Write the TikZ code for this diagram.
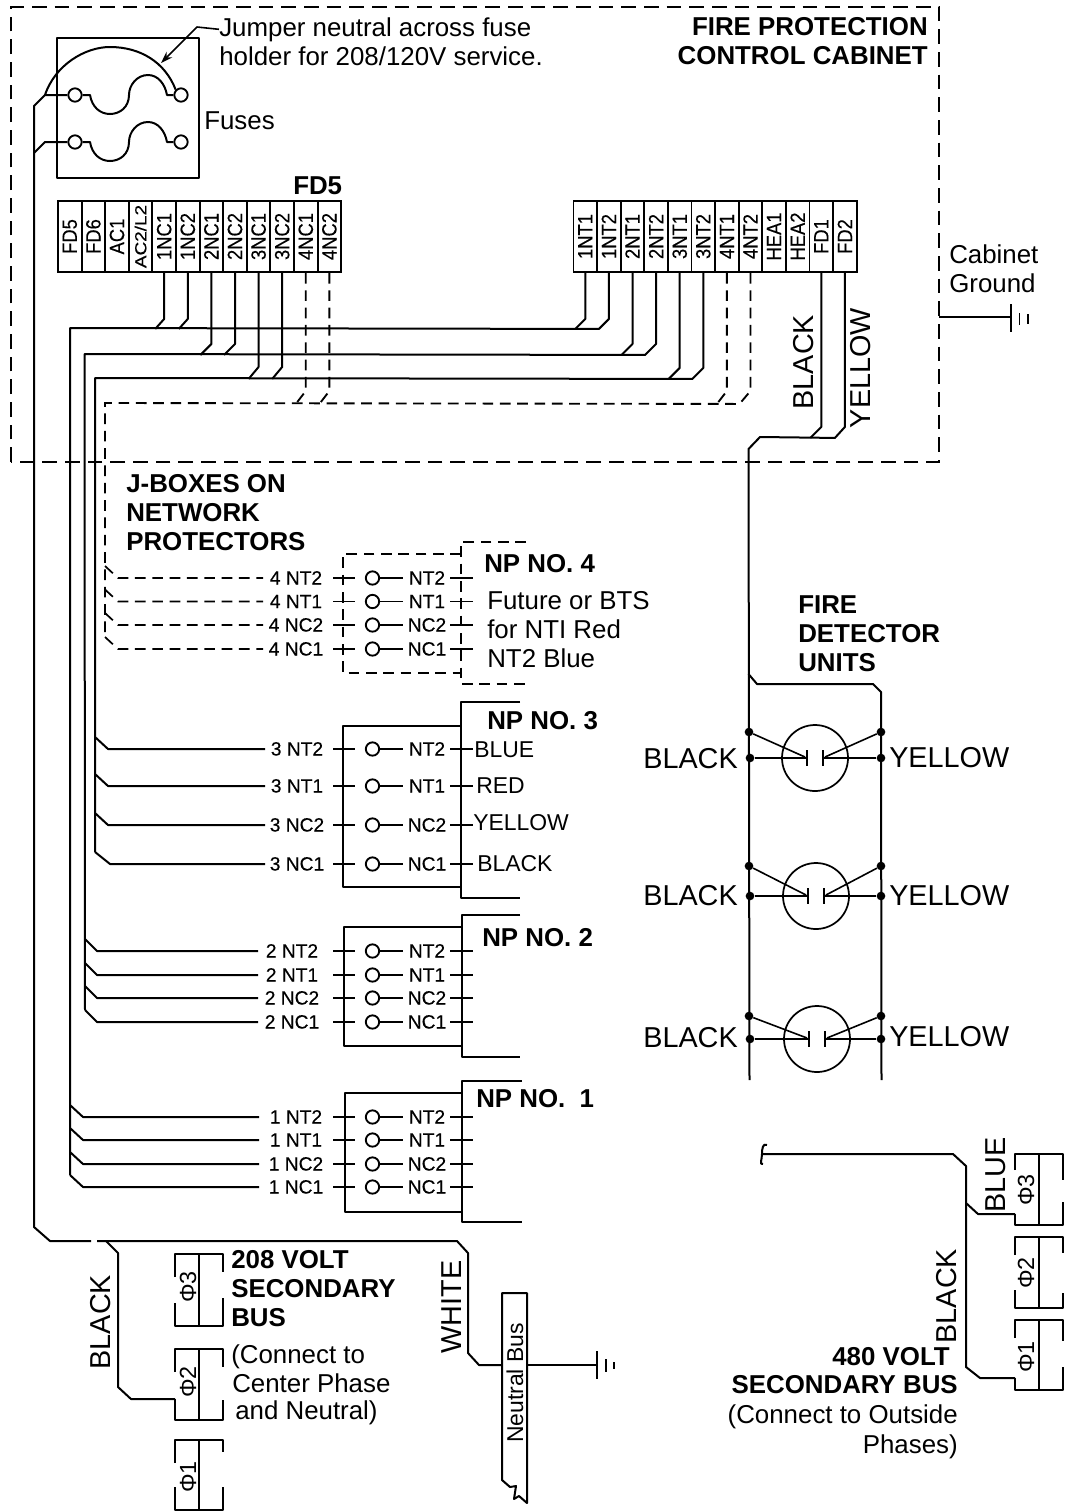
\documentclass[tikz,border=0pt]{standalone}
\usepackage{fontspec}
\setmainfont{Liberation Sans}
\newfontfamily\semib[FakeBold=0.25]{Liberation Sans}
\usetikzlibrary{arrows.meta}
\tikzset{
  wire/.style={line width=1.5pt,line join=round},
  thinw/.style={line width=1.2pt,line join=round},
  dwire/.style={line width=1.4pt,dash pattern=on 8pt off 5pt},
  jdash/.style={line width=1.3pt,dash pattern=on 8pt off 5pt},
  cabd/.style={line width=1.4pt,dash pattern=on 11pt off 6pt},
  tx/.style={inner sep=0pt,font=\fontsize{19.4}{19.4}\selectfont},
  bx/.style={inner sep=0pt,font=\fontsize{19.4}{19.4}\selectfont\bfseries},
  col/.style={inner sep=0pt,font=\fontsize{17.2}{17.2}\selectfont},
  big/.style={inner sep=0pt,font=\fontsize{21.6}{21.6}\selectfont},
  rl/.style={inner sep=0pt,font=\fontsize{14.4}{14.4}\selectfont\semib},
  phl/.style={inner sep=0pt,font=\fontsize{17.5}{17.5}\selectfont},
  cell/.style={draw,line width=1.4pt,minimum width=17.7pt,minimum height=53.25pt,inner sep=0pt,font=\fontsize{15.5}{15.5}\selectfont\semib},
  ring/.style={draw,circle,line width=1.4pt,minimum size=10pt,inner sep=0pt},
  sdot/.style={fill,circle,minimum size=6.5pt,inner sep=0pt},
  det/.style={draw,circle,line width=1.3pt,minimum size=49.5pt,inner sep=0pt},
}
\newcommand{\jrow}[9]{% id, y, bus x, wire x, wire end, wire style, label, label x, name
  \coordinate (#1b) at (#3,#2-12);
  \coordinate (#1a) at (#4,#2);
  \coordinate (#1e) at (#5,#2);
  \draw[#6] (#1b) -- (#1a) -- (#1e);
  \node[rl,anchor=base] (#1l) at (#8,#2+6.5) {#7};
  \coordinate (#1p) at (333,#2);
  \coordinate (#1q) at (355,#2);
  \draw[thinw] (#1p) -- (#1q);
  \node[ring] (#1c) at (372.5,#2) {};
  \coordinate (#1r) at (403,#2);
  \draw[thinw] (#1c) -- (#1r);
  \node[rl,anchor=base] (#1m) at (427,#2+6.5) {#9};
  \coordinate (#1s) at (450,#2);
  \coordinate (#1t) at (473,#2);
  \draw[thinw] (#1s) -- (#1t);
}
\newcommand{\detector}[4]{% id, cx, cy, y of upper dots
  \node[det] (#1o) at (#2,#3) {};
  \node[sdot] (#1a) at (749,#4) {};
  \node[sdot] (#1b) at (750,#3) {};
  \node[sdot] (#1c) at (881,#4) {};
  \node[sdot] (#1d) at (881,#3) {};
  \coordinate (#1f) at (#2-8,#3);
  \coordinate (#1g) at (#2+8,#3);
  \draw[thinw] (#1b) -- (#1f) (#1d) -- (#1g);
  \draw[thinw] (#2-8,#3-8) -- (#2-8,#3+8) (#2+8,#3-8) -- (#2+8,#3+8);
  \draw[thinw] (#1a) -- (#2-10,#3-1) (#1c) -- (#2+10,#3-1);
}
\newcommand{\phibox}[7]{% left x, top, bottom, left stub end, left stub start, right stub end, right stub start
  \draw[thinw] (#1,#4) -- (#1,#2) -- (#1+48,#2) -- (#1+48,#6);
  \draw[thinw] (#1,#5) -- (#1,#3) -- (#1+48,#3) -- (#1+48,#7);
  \draw[thinw] (#1+24,#2) -- (#1+24,#3);
}
\begin{document}
\begin{tikzpicture}[x=0.75pt,y=-0.75pt]
\useasboundingbox (0,0) rectangle (1065,1511);
% cabinet
\draw[cabd] (11,462) -- (11,7) -- (939,7) -- (939,462) -- cycle;
% fuses
\draw[wire] (57,38) rectangle (199,178);
\node[ring] (fa) at (75,95) {};
\node[ring] (fb) at (181,95) {};
\node[ring] (fc) at (75,142) {};
\node[ring] (fd) at (181,142) {};
\draw[wire] (fa.east) -- (90,95) .. controls (92,107) and (100,114) .. (110,114) .. controls (120,114) and (129,107) .. (129,95) .. controls (129,85) and (137,75) .. (148,75) .. controls (158,75) and (165,84) .. (167,95) -- (fb.west);
\draw[wire] (fc.east) -- (90,142) .. controls (92,154) and (100,161) .. (110,161) .. controls (120,161) and (129,154) .. (129,142) .. controls (129,132) and (137,122) .. (148,122) .. controls (158,122) and (165,131) .. (167,142) -- (fd.west);
\coordinate (up) at (45,95);
\coordinate (low) at (45,142);
\draw[wire] (up) .. controls (55,65) and (85,47) .. (110,47) .. controls (140,47) and (165,62) .. (fb.north west);
% labels top
\node[tx,anchor=base west] (jt1) at (219,36) {Jumper neutral across fuse};
\node[tx,anchor=base west] (jt2) at (219,65) {holder for 208/120V service.};
\coordinate (jbend) at (197,27);
\coordinate (jtip) at (161,63);
\draw[thinw,-{Stealth[length=9pt,width=6pt]}] (jt1.west) -- (jbend) -- (jtip);
\node[tx,anchor=base west] (fu) at (204,129) {Fuses};
\node[bx,anchor=base east] (fp1) at (928,35) {FIRE PROTECTION};
\node[bx,anchor=base east] (fp2) at (928,64) {CONTROL CABINET};
\node[bx,anchor=base west] (fd5) at (293,194) {FD5};
\node[tx,anchor=base west] (cg1) at (949,263) {Cabinet};
\node[tx,anchor=base west] (cg2) at (949,292) {Ground};
% cabinet ground
\coordinate (g0) at (939,317);
\coordinate (g1) at (1011,317);
\draw[thinw] (g0) -- (g1);
\draw[wire] (1011,304) -- (1011,332);
\draw[thinw] (1019.5,313) -- (1019.5,325) (1028,314) -- (1028,324);
% strips
\foreach \i/\t in {1/FD5,2/FD6,3/AC1,4/{\scalebox{1.03}[.78]{AC2/L2}},5/1NC1,6/1NC2,7/2NC1,8/2NC2,9/3NC1,10/3NC2,11/4NC1,12/4NC2}
  \node[cell] (L\i) at ({58+(\i-.5)*23.6},236.5) {\rotatebox{90}{\scalebox{.89}[1]{\t}}};
\foreach \i/\t in {1/1NT1,2/1NT2,3/2NT1,4/2NT2,5/3NT1,6/3NT2,7/4NT1,8/4NT2,9/HEA1,10/HEA2,11/FD1,12/FD2}
  \node[cell] (R\i) at ({573.5+(\i-.5)*23.6},236.5) {\rotatebox{90}{\scalebox{.89}[1]{\t}}};
% J-box text
\node[bx,anchor=base west] (jb1) at (126,492) {J-BOXES ON};
\node[bx,anchor=base west] (jb2) at (126,521) {NETWORK};
\node[bx,anchor=base west] (jb3) at (126,550) {PROTECTORS};
% rows NP4
\jrow{da}{578}{105}{118}{263}{jdash}{4 NT2}{296}{NT2}
\jrow{db}{601.5}{105}{118}{263}{jdash}{4 NT1}{296}{NT1}
\jrow{dc}{625}{105}{118}{263}{jdash}{4 NC2}{296}{NC2}
\jrow{dd}{649}{105}{118}{263}{jdash}{4 NC1}{296}{NC1}
% rows NP3
\jrow{ca}{749}{95}{108}{265}{wire}{3 NT2}{297}{NT2}
\jrow{cb}{786}{95}{108}{265}{wire}{3 NT1}{297}{NT1}
\jrow{cc}{825}{95}{108}{265}{wire}{3 NC2}{297}{NC2}
\jrow{cd}{864}{95}{110}{265}{wire}{3 NC1}{297}{NC1}
% rows NP2
\jrow{ba}{951}{85}{97}{258}{wire}{2 NT2}{292}{NT2}
\jrow{bb}{975}{85}{97}{258}{wire}{2 NT1}{292}{NT1}
\jrow{bc}{998}{85}{97}{258}{wire}{2 NC2}{292}{NC2}
\jrow{bd}{1022}{85}{97}{258}{wire}{2 NC1}{292}{NC1}
% rows NP1
\jrow{aa}{1117}{70}{83}{259}{wire}{1 NT2}{296}{NT2}
\jrow{ab}{1140}{70}{83}{259}{wire}{1 NT1}{296}{NT1}
\jrow{ac}{1164}{70}{83}{259}{wire}{1 NC2}{296}{NC2}
\jrow{ad}{1187}{70}{83}{259}{wire}{1 NC1}{296}{NC1}
% NP enclosures
\draw[jdash] (461,554) -- (343,554) -- (343,673) -- (461,673);
\draw[jdash] (526,542) -- (461,542) -- (461,684) -- (526,684);
\draw[wire] (461,726) -- (343,726) -- (343,887) -- (461,887);
\draw[wire] (520,702) -- (461,702) -- (461,898) -- (520,898);
\draw[wire] (462,927) -- (344,927) -- (344,1046) -- (462,1046);
\draw[wire] (520,915) -- (462,915) -- (462,1057) -- (520,1057);
\draw[wire] (462,1093) -- (345,1093) -- (345,1212) -- (462,1212);
\draw[wire] (522,1081) -- (462,1081) -- (462,1222) -- (522,1222);
% NP text
\node[bx,anchor=base west] (np4) at (484,572) {NP NO. 4};
\node[tx,anchor=base west] (f1) at (487,609) {Future or BTS};
\node[tx,anchor=base west] (f2) at (487,638) {for NTI Red};
\node[tx,anchor=base west] (f3) at (487,667) {NT2 Blue};
\node[bx,anchor=base west] (np3) at (487,729) {NP NO. 3};
\node[col,anchor=base west] (c1) at (474,757) {BLUE};
\node[col,anchor=base west] (c2) at (476,793) {RED};
\node[col,anchor=base west] (c3) at (473,830) {YELLOW};
\node[col,anchor=base west] (c4) at (477,871) {BLACK};
\node[bx,anchor=base west] (np2) at (482,946) {NP NO. 2};
\node[bx,anchor=base west] (np1) at (476,1107) {NP NO.\ \ 1};
% buses
\draw[wire] (L5.south) -- ++(0,46) -- ++(-9,10);
\draw[wire] (L6.south) -- ++(0,46) -- ++(-9,10);
\draw[wire] (R1.south) -- ++(0,46) -- ++(-10,10);
\draw[wire] (R2.south) -- ++(0,46) -- ++(-10,10) -- (70,328) -- (adb);
\draw[wire] (L7.south) -- ++(0,71) -- ++(-11,11);
\draw[wire] (L8.south) -- ++(0,71) -- ++(-11,11);
\draw[wire] (R3.south) -- ++(0,71) -- ++(-11,11);
\draw[wire] (R4.south) -- ++(0,71) -- ++(-11,11) -- (84.5,354) -- (bdb);
\draw[wire] (L9.south) -- ++(0,94) -- ++(-10,12);
\draw[wire] (L10.south) -- ++(0,94) -- ++(-10,12);
\draw[wire] (R5.south) -- ++(0,95) -- ++(-11,11);
\draw[wire] (R6.south) -- ++(0,95) -- ++(-11,11) -- (95,378) -- (cdb);
\draw[dwire] (L11.south) -- ++(0,118) -- ++(-10,13);
\draw[dwire] (L12.south) -- ++(0,118) -- ++(-10,13);
\draw[dwire] (R7.south) -- ++(0,118) -- ++(-10,13);
\draw[dwire] (R8.south) -- ++(0,118) -- ++(-11,13) -- (105,403) -- (ddb);
% fire detector wiring
\draw[wire] (R11.south) -- ++(0,154) -- ++(-11,11);
\draw[wire] (R12.south) -- ++(0,154) -- ++(-10,11) -- (760,437) -- (748.5,449) -- (749.5,1080);
\draw[wire] (748.5,674) -- (757,684) -- (873,684) -- (881,692) -- (881.5,1080);
\detector{x}{815}{758}{732}
\detector{y}{816}{896}{866}
\detector{z}{817}{1039}{1016}
\node[bx,anchor=base west] (fd1) at (798,613) {FIRE};
\node[bx,anchor=base west] (fd2) at (798,642) {DETECTOR};
\node[bx,anchor=base west] (fd3) at (798,671) {UNITS};
\node[big,anchor=base east] (bl1) at (738,768) {BLACK};
\node[big,anchor=base east] (bl2) at (738,905) {BLACK};
\node[big,anchor=base east] (bl3) at (738,1047) {BLACK};
\node[big,anchor=base west] (ye1) at (889,767) {YELLOW};
\node[big,anchor=base west] (ye2) at (889,905) {YELLOW};
\node[big,anchor=base west] (ye3) at (889,1046) {YELLOW};
\node[big,rotate=90] (rb) at (804,362) {BLACK};
\node[big,rotate=90] (ry) at (861,368) {YELLOW};
% main supply
\coordinate (ga) at (91,1241);
\coordinate (gb) at (97,1241);
\draw[wire] (fa.west) -- (up) -- (34,106) -- (34,1227) -- (50,1241) -- (ga);
\draw[wire] (fc.west) -- (low) -- (34,153);
\coordinate (nbl) at (502,1365);
\coordinate (nbr) at (527,1365);
\coordinate (gn) at (597,1365);
\draw[wire] (gb) -- (457,1241) -- (468,1253) -- (468,1353) -- (479,1365) -- (nbl);
\draw[thinw] (nbr) -- (gn);
\draw[wire] (597,1351) -- (597,1379);
\draw[thinw] (606,1359) -- (606,1372) (614,1362) -- (614,1369);
\draw[wire] (502,1480) -- (502,1293) -- (527,1293) -- (527,1503) -- (519,1496) -- (514,1499) -- (516,1486) -- (510,1487) -- cycle;
\node[col,rotate=90] (nbus) at (515,1383) {Neutral Bus};
\node[big,rotate=90] (wh) at (452,1307) {WHITE};
\node[big,rotate=90] (bk) at (101,1322) {BLACK};
\coordinate (p2) at (175,1399);
\draw[wire] (106,1241) -- (118,1253) -- (118,1387) -- (131,1399) -- (p2);
% 208 bus
\phibox{175}{1254}{1326}{1277}{1303}{1272}{1298}
\phibox{175}{1349}{1420}{1372}{1399}{1367}{1400}
\phibox{175}{1440}{1510}{1463}{1487}{1452}{1487}
\node[phl,rotate=90] (p3t) at (188,1287) {Φ3};
\node[phl,rotate=90] (p2t) at (188,1382) {Φ2};
\node[phl,rotate=90] (p1t) at (188,1477) {Φ1};
\node[bx,anchor=base west] (v1) at (231,1268) {208 VOLT};
\node[bx,anchor=base west] (v2) at (231,1297) {SECONDARY};
\node[bx,anchor=base west] (v3) at (231,1326) {BUS};
\node[tx,anchor=base west] (w1) at (231,1363) {(Connect to};
\node[tx,anchor=base west] (w2) at (232,1392) {Center Phase};
\node[tx,anchor=base west] (w3) at (235,1419) {and Neutral)};
% 480 bus
\coordinate (q3) at (1015,1214);
\coordinate (q1) at (1015,1378);
\draw[wire] (767,1145) .. controls (763,1143) and (762,1148) .. (762,1154) .. controls (762,1160) and (759,1165) .. (763,1164);
\draw[wire] (762,1154) -- (953,1154) -- (966,1166) -- (966,1367) -- (980,1378) -- (q1);
\draw[wire] (966,1203) -- (978,1214) -- (q3);
\phibox{1015}{1154}{1225}{1170}{1214}{1180}{1202}
\phibox{1015}{1237}{1308}{1255}{1290}{1253}{1293}
\phibox{1015}{1320}{1390}{1338}{1378}{1341}{1367}
\node[phl,rotate=90] (q3t) at (1026,1190) {Φ3};
\node[phl,rotate=90] (q2t) at (1026,1273) {Φ2};
\node[phl,rotate=90] (q1t) at (1026,1357) {Φ1};
\node[big,rotate=90] (bu) at (996,1175) {BLUE};
\node[big,rotate=90] (bb) at (947,1296) {BLACK};
\node[bx,anchor=base east] (h1) at (950,1365) {480 VOLT};
\node[bx,anchor=base east] (h2) at (958,1393) {SECONDARY BUS};
\node[tx,anchor=base east] (h3) at (958,1423) {(Connect to Outside};
\node[tx,anchor=base east] (h4) at (958,1453) {Phases)};
\end{tikzpicture}
\end{document}
